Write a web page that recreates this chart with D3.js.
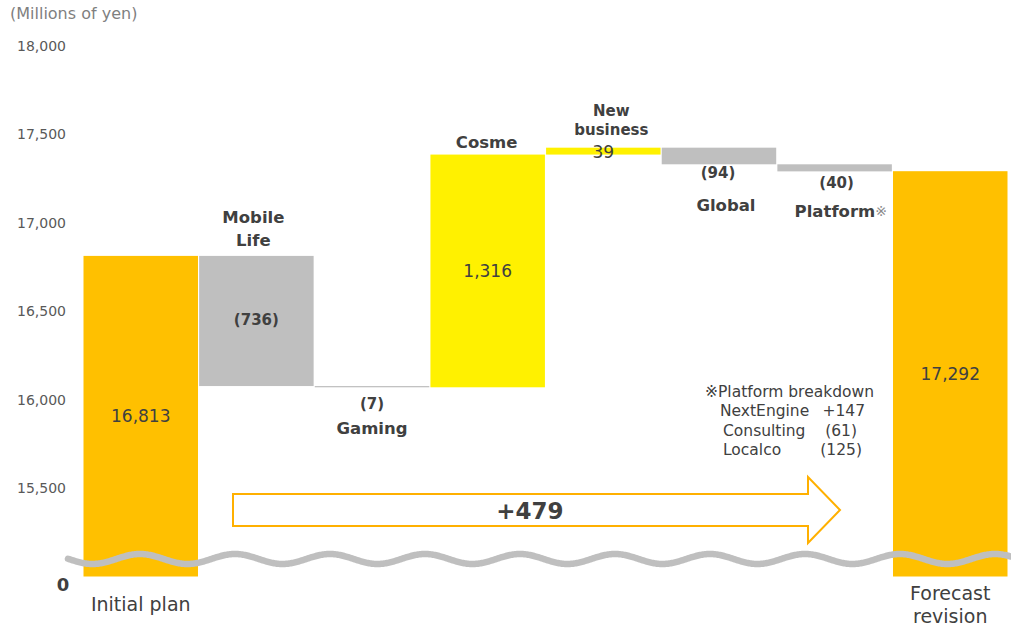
<!DOCTYPE html>
<html>
<head>
<meta charset="utf-8">
<script src="https://cdn.jsdelivr.net/npm/d3@7"></script>
<style>
  body { margin: 0; background: #fff; }
  text { font-family: "DejaVu Sans", Verdana, sans-serif; fill: #404040; }
</style>
</head>
<body>
<script>
// waterfall data
var categories = ["Initial plan", "Mobile Life", "Gaming", "Cosme", "New business", "Global", "Platform", "Forecast revision"];
var changes = [16813, -736, -7, 1316, 39, -94, -40, 17292];
var valueLabels = ["16,813", "(736)", "(7)", "1,316", "39", "(94)", "(40)", "17,292"];
var nameLines = [["Initial plan"], ["Mobile", "Life"], ["Gaming"], ["Cosme"], ["New", "business"], ["Global"], ["Platform"], ["Forecast", "revision"]];
var yTicks = [15500, 16000, 16500, 17000, 17500, 18000];
var breakdownNames = ["NextEngine", "Consulting", "Localco"];
var breakdownValues = ["+147", "(61)", "(125)"];
var totalChange = "+479";

var width = 1011, height = 627;
var colTotal = "#FFC000", colUp = "#FFF100", colDown = "#BFBFBF";

var svg = d3.select("body").append("svg")
    .attr("width", width)
    .attr("height", height);

var x = d3.scaleBand()
    .domain(categories)
    .range([83.5, 1007.5])
    .paddingInner(0.01);

var y = d3.scaleLinear()
    .domain([15000, 18000])
    .range([576.5, 46]);

// build start / end of each step
var running = 0;
var bars = categories.map(function(c, i) {
    var d = {name: c, i: i, label: valueLabels[i]};
    if (i == 0 || i == categories.length - 1) {
        d.start = 15000; d.end = changes[i]; d.type = "total";
        running = changes[i];
    } else {
        d.start = running; d.end = running + changes[i];
        d.type = changes[i] >= 0 ? "up" : "down";
        running = d.end;
    }
    return d;
});

// y axis labels
svg.append("text")
    .attr("x", 10).attr("y", 13)
    .attr("dominant-baseline", "central")
    .style("font-size", "16px")
    .style("fill", "#7f7f7f")
    .text("(Millions of yen)");

var axis = svg.append("g")
    .attr("transform", "translate(66,0)")
    .call(d3.axisLeft(y).tickValues(yTicks).tickSize(0).tickPadding(0).tickFormat(d3.format(",")));
axis.select(".domain").remove();
axis.selectAll("text")
    .style("font-size", "14px")
    .style("font-family", "'DejaVu Sans', Verdana, sans-serif")
    .style("fill", "#595959");

svg.append("text")
    .attr("x", 63).attr("y", 584)
    .attr("text-anchor", "middle")
    .attr("dominant-baseline", "central")
    .style("font-size", "18px")
    .style("font-weight", "bold")
    .text("0");

// bars
svg.append("g").selectAll("rect")
    .data(bars)
    .enter().append("rect")
    .attr("x", function(d) { return x(d.name); })
    .attr("width", x.bandwidth())
    .attr("y", function(d) { return y(Math.max(d.start, d.end)); })
    .attr("height", function(d) { return Math.max(1.2, Math.abs(y(d.start) - y(d.end))); })
    .style("fill", function(d) { return d.type == "total" ? colTotal : d.type == "up" ? colUp : colDown; });

// total change arrow
var ax0 = 233, ax1 = 808, ax2 = 840, ay = 510, bodyH = 16, headH = 33;
svg.append("path")
    .attr("d", "M" + ax0 + "," + (ay - bodyH) + "H" + ax1 + "V" + (ay - headH) + "L" + ax2 + "," + ay +
        "L" + ax1 + "," + (ay + headH) + "V" + (ay + bodyH) + "H" + ax0 + "Z")
    .style("fill", "#fff")
    .style("stroke", "#FFB000")
    .style("stroke-width", 2);

// axis break wave
var wave = d3.range(68, 1012, 1).map(function(px) {
    return [px, 559 - 5 * Math.cos(2 * Math.PI * (px - 140) / 95)];
});
svg.append("path")
    .attr("d", d3.line()(wave))
    .style("fill", "none")
    .style("stroke", "#BFBFBF")
    .style("stroke-width", 6.5)
    .style("stroke-linecap", "round");

function cx(d) { return x(d.name) + x.bandwidth() / 2; }
function barTop(d) { return y(Math.max(d.start, d.end)); }
function barBot(d) { return y(Math.min(d.start, d.end)); }

var labels = svg.append("g");

function addText(tx, ty, str, size, bold, anchor) {
    return labels.append("text")
        .attr("x", tx).attr("y", ty)
        .attr("text-anchor", anchor || "middle")
        .attr("dominant-baseline", "central")
        .style("font-size", size + "px")
        .style("font-weight", bold ? "bold" : "normal")
        .text(str);
}

bars.forEach(function(d) {
    var c = cx(d), t = barTop(d), b = barBot(d);
    var n = nameLines[d.i];
    if (d.type == "total") {
        addText(c, (t + b) / 2, d.label, 17, false);
        n.forEach(function(s, k) { addText(c, y(15000) + 27 + k * 23 - (n.length - 1) * 11, s, 19, false); });
    } else if (d.name == "Mobile Life") {
        addText(c, (t + b) / 2 - 1, d.label, 15, true);
        n.forEach(function(s, k) { addText(c - 3, t - 38 + k * 23, s, 16.5, true); });
    } else if (d.name == "Gaming") {
        addText(c, b + 17, d.label, 15, true);
        addText(c, b + 41, n[0], 16.5, true);
    } else if (d.name == "Cosme") {
        addText(c, (t + b) / 2, d.label, 17, false);
        addText(c - 1, t - 12, n[0], 16.5, true);
    } else if (d.name == "New business") {
        addText(c, (t + b) / 2 + 1, d.label, 17, false);
        n.forEach(function(s, k) { addText(c + 8, t - 37 + k * 19, s, 15, true); });
    } else if (d.name == "Global") {
        addText(c - 1, b + 9, d.label, 15, true);
        addText(c + 7, b + 41, n[0], 16.5, true);
    } else if (d.name == "Platform") {
        addText(c + 2, b + 12, d.label, 15, true);
        var pt = addText(c - 40, b + 40, n[0], 16.5, true, "start");
        pt.append("tspan").style("font-weight", "normal").style("fill", "#8c8c8c").style("font-size", "14px").text("※");
    }
});

// platform breakdown note
addText(705, 392, "※Platform breakdown", 15.5, false, "start");
breakdownNames.forEach(function(s, k) {
    addText(k == 0 ? 720 : 723, 411 + k * 19.5, s, 15.5, false, "start");
    addText([865, 857, 862][k], 411 + k * 19.5, breakdownValues[k], 15.5, false, "end");
});

addText(530, ay + 1, totalChange, 23, true);
</script>
</body>
</html>
